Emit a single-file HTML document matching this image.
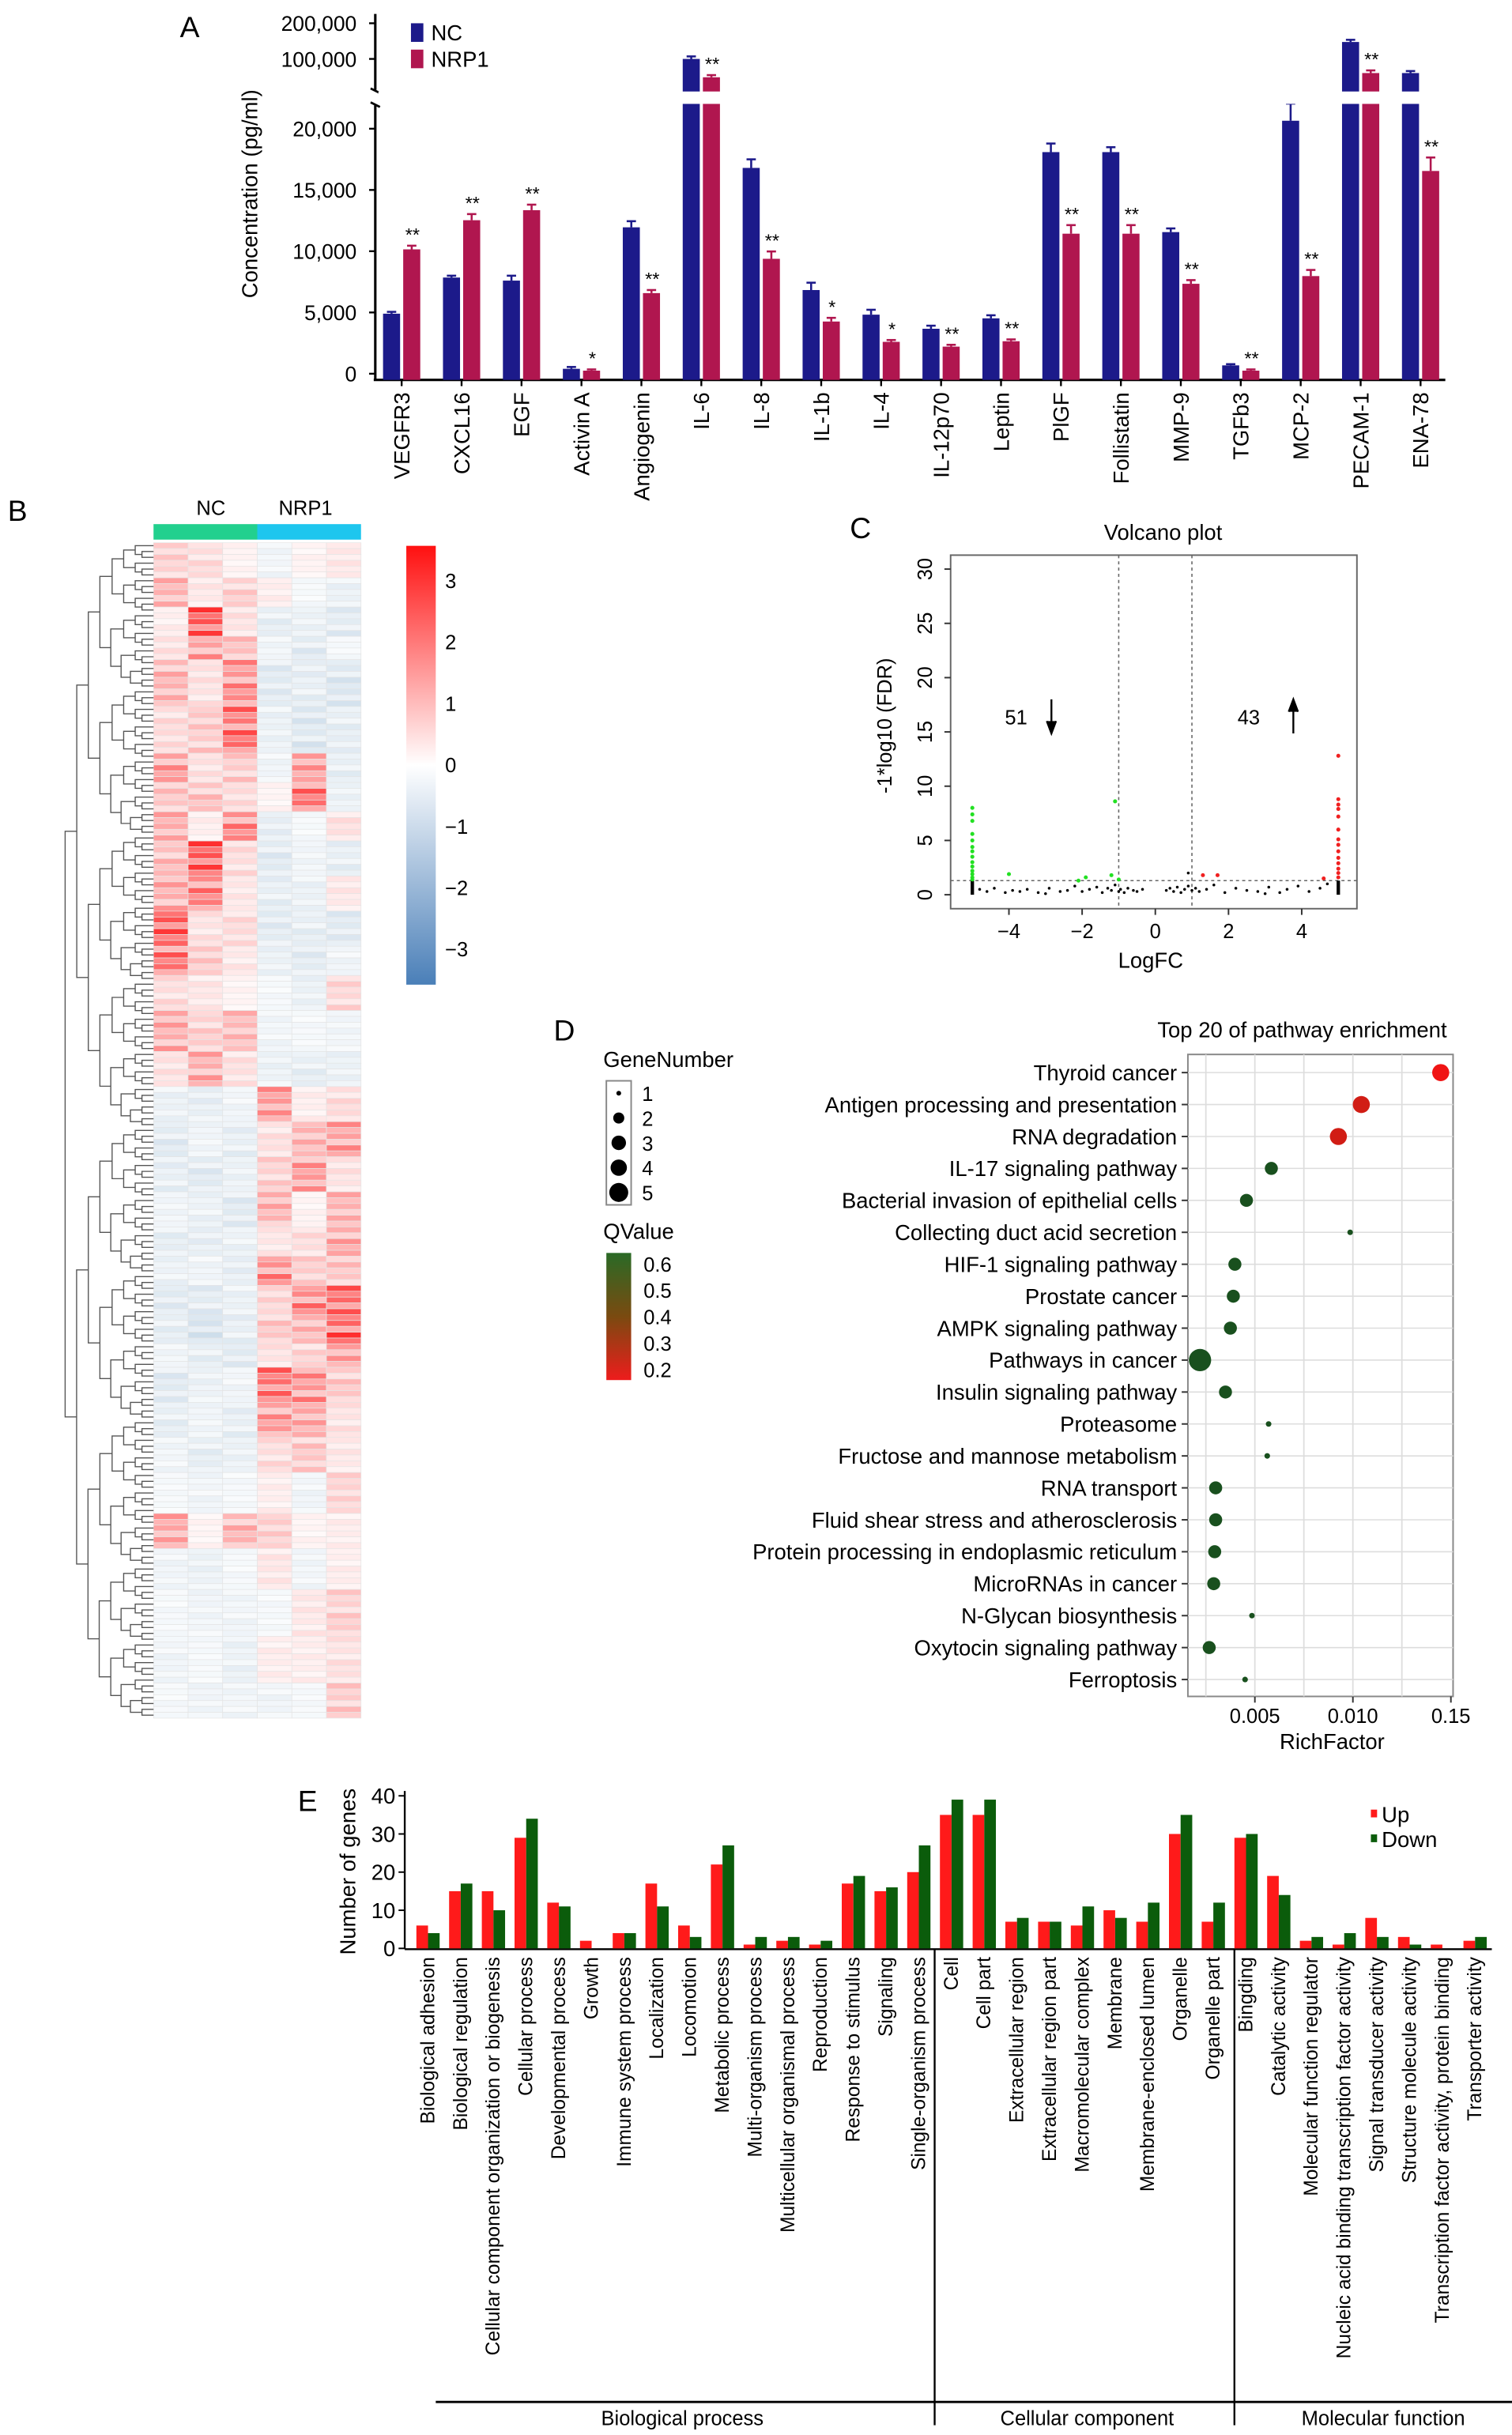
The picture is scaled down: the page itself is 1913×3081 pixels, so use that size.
<!DOCTYPE html>
<html><head><meta charset="utf-8"><style>
html,body{margin:0;padding:0;background:#fff;}
svg{display:block;font-family:"Liberation Sans",Arial,sans-serif;}
</style></head><body>
<svg id="fig" xmlns="http://www.w3.org/2000/svg" width="1913" height="3081" viewBox="0 0 975 1570.3" preserveAspectRatio="none">
<rect x="0" y="0" width="975" height="1571" fill="#fff"/>
<g id="pa"></g>
<g id="pb"></g>
<g id="pc"></g>
<g id="pd"></g>
<g id="pe"></g>
</svg>
<script>
// ---------- Panel A data ----------
const aCats=["VEGFR3","CXCL16","EGF","Activin A","Angiogenin","IL-6","IL-8","IL-1b","IL-4","IL-12p70","Leptin","PlGF","Follistatin","MMP-9","TGFb3","MCP-2","PECAM-1","ENA-78"];
const aNC=[4900,7850,7600,400,11950,100000,16800,6830,4820,3670,4520,18090,18090,11560,680,20650,139000,76000];
const aNRP=[10150,12530,13350,250,6580,70000,9380,4260,2600,2210,2650,11430,11430,7340,250,7970,76000,16550];
const aNCerr=[150,150,400,150,500,5000,700,600,400,250,250,700,400,300,100,1400,6000,3000];
const aNRPerr=[300,500,450,100,250,3000,600,300,150,150,150,700,700,300,100,500,4000,1100];
const aStars=["**","**","**","*","**","**","**","*","*","**","**","**","**","**","**","**","**","**"];
const aTicks=[0,5000,10000,15000,20000,100000,200000];
const aTickLabels=["0","5,000","10,000","15,000","20,000","100,000","200,000"];
// ---------- Panel B data: [rows, NC1,NC2,NC3,NRP1,NRP2,NRP3] ----------
const hmBlocks=[[6,0.8,0.6,0.2,-0.3,0.2,0.4],[5,1.2,0.4,0.8,0.3,-0.2,-0.4],[5,0.3,2.6,0.5,-0.5,-0.4,-0.6],[4,0.5,1.6,1.0,-0.3,-0.6,-0.2],[8,1.2,0.5,1.8,-0.6,-0.5,-0.7],[8,0.6,0.9,2.3,-0.4,-0.7,-0.5],[5,1.6,0.5,0.9,-0.3,1.6,-0.5],[5,1.0,1.0,0.6,0.2,2.2,-0.4],[5,1.3,0.3,1.9,-0.5,-0.2,0.5],[6,1.1,2.6,0.6,-0.6,-0.3,-0.5],[6,1.4,2.0,0.4,-0.5,-0.4,0.4],[6,2.6,0.5,0.6,-0.6,-0.5,-0.6],[5,2.2,0.9,0.4,-0.4,-0.6,-0.3],[6,0.6,0.4,0.2,-0.2,-0.4,0.7],[7,1.4,0.8,1.1,-0.3,-0.2,-0.3],[6,0.5,1.4,0.5,-0.4,-0.5,-0.4],[6,-0.4,-0.5,-0.3,1.6,0.3,0.6],[6,-0.6,-0.3,-0.5,0.5,1.2,1.6],[6,-0.5,-0.6,-0.4,0.8,1.6,0.5],[6,-0.3,-0.4,-0.6,1.3,0.2,1.2],[5,-0.5,-0.5,-0.4,0.4,0.6,1.4],[5,-0.4,-0.3,-0.5,1.9,0.8,1.0],[5,-0.6,-0.6,-0.4,0.7,2.0,2.3],[5,-0.5,-0.8,-0.5,0.9,1.2,2.6],[4,-0.3,-0.5,-0.6,0.5,0.7,1.5],[6,-0.6,-0.4,-0.3,2.2,1.8,0.9],[6,-0.5,-0.3,-0.5,1.6,1.4,0.5],[6,-0.3,-0.5,-0.4,0.6,0.9,0.4],[7,-0.2,-0.3,-0.2,0.3,-0.3,0.7],[6,1.4,0.2,1.2,0.8,0.2,0.3],[7,-0.3,-0.4,-0.2,0.4,-0.3,0.3],[8,-0.2,-0.3,-0.3,-0.2,0.4,0.8],[8,-0.3,-0.2,-0.4,0.3,0.3,0.5],[6,-0.2,-0.3,-0.3,-0.3,-0.2,0.9]];
const hmPattern=[1,0.55,1.15,0.7,0.9,0.45,1.2,0.8];
const cbTicks=[3,2,1,0,-1,-2,-3];
// ---------- Panel C data ----------
const volGreenX=[-5,-5,-5,-5,-5,-5,-5,-5,-5,-5,-5,-5,-5,-5,-4,-2.1,-1.9,-1.2,-1.1,-1.0];
const volGreenY=[8,7.4,6.8,5.6,5,4.4,4,3.5,3,2.6,2.2,1.9,1.6,1.4,1.9,1.3,1.6,1.8,8.6,1.4];
const volRedX=[5,5,5,5,5,5,5,5,5,5,5,5,5,5,1.3,1.7,4.6];
const volRedY=[12.8,8.8,8.3,7.9,7.2,6,5.1,4.6,4,3.4,2.9,2.4,2,1.6,1.8,1.8,1.5];
const volBlackX=[-4.8,-4.6,-4.4,-4.1,-3.9,-3.7,-3.5,-3.2,-2.9,-2.6,-2.4,-2.2,-2.0,-1.8,-1.6,-1.45,-1.3,-1.2,-1.1,-1.0,-0.95,-0.85,-0.75,-0.6,-0.5,-0.35,0.3,0.4,0.5,0.6,0.7,0.8,0.9,1.0,1.1,1.2,1.4,1.6,1.9,2.2,2.5,2.8,3.1,3.4,3.6,3.9,4.2,4.5,4.7,0.9,-3.0,3.0];
const volBlackY=[0.5,0.3,0.6,0.2,0.4,0.3,0.5,0.2,0.6,0.3,0.4,0.8,0.3,0.5,0.7,0.2,0.6,0.4,0.9,0.3,0.5,0.2,0.6,0.4,0.3,0.5,0.4,0.6,0.3,0.7,0.2,0.5,0.8,0.4,0.6,0.3,0.5,0.9,0.2,0.6,0.4,0.3,0.7,0.2,0.5,0.8,0.3,0.6,1.0,2.0,0.1,0.1];
const volYTicks=[0,5,10,15,20,25,30];
const volXTicks=[-4,-2,0,2,4];
// ---------- Panel D data ----------
const pwNames=["Thyroid cancer","Antigen processing and presentation","RNA degradation","IL-17 signaling pathway","Bacterial invasion of epithelial cells","Collecting duct acid secretion","HIF-1 signaling pathway","Prostate cancer","AMPK signaling pathway","Pathways in cancer","Insulin signaling pathway","Proteasome","Fructose and mannose metabolism","RNA transport","Fluid shear stress and atherosclerosis","Protein processing in endoplasmic reticulum","MicroRNAs in cancer","N-Glycan biosynthesis","Oxytocin signaling pathway","Ferroptosis"];
const pwRich=[0.01448,0.01043,0.00926,0.00584,0.00457,0.00986,0.00398,0.0039,0.00375,0.0022,0.0035,0.0057,0.00563,0.0030,0.0030,0.00295,0.0029,0.00485,0.00267,0.0045];
const pwGenes=[3,3,3,2,2,1,2,2,2,5,2,1,1,2,2,2,2,1,2,1];
const pwQ=[0.2,0.26,0.26,0.62,0.62,0.62,0.62,0.62,0.62,0.62,0.62,0.62,0.62,0.62,0.62,0.62,0.62,0.62,0.62,0.62];
const pwXTicks=[0.005,0.010,0.015];
const pwXTickLabels=["0.005","0.010","0.15"];
// ---------- Panel E data ----------
const goCats=["Biological adhesion","Biological regulation","Cellular component organization or biogenesis","Cellular process","Developmental process","Growth","Immune system process","Localization","Locomotion","Metabolic process","Multi-organism process","Multicellular organismal process","Reproduction","Response to stimulus","Signaling","Single-organism process","Cell","Cell part","Extracellular region","Extracellular region part","Macromolecular complex","Membrane","Membrane-enclosed lumen","Organelle","Organelle part","Bingding","Catalytic activity","Molecular function regulator","Nucleic acid binding transcription factor activity","Signal transducer activity","Structure molecule activity","Transcription factor activity, protein binding","Transporter activity"];
const goUp=[6,15,15,29,12,2,4,17,6,22,1,2,1,17,15,20,35,35,7,7,6,10,7,30,7,29,19,2,1,8,3,1,2];
const goDown=[4,17,10,34,11,0,4,11,3,27,3,3,2,19,16,27,39,39,8,7,11,8,12,35,12,30,14,3,4,3,1,0,3];
const goTicks=[0,10,20,30,40];
const goGroups=["Biological process","Cellular component","Molecular function"];

const NS="http://www.w3.org/2000/svg";
function mk(parent,tag,attrs,text){const e=document.createElementNS(NS,tag);for(const k in attrs)e.setAttribute(k,attrs[k]);if(text!==undefined)e.textContent=text;parent.appendChild(e);return e;}

// ================= PANEL A =================
(function(){
const g=document.getElementById('pa');
const base=245, axX=242;
function yA(v){ if(v<=25000) return 241 - v*0.0079; return 38 - Math.log2(v/100000)*23; }
const xC=i=>259+i*38.65;
let t=mk(g,'text',{x:116,y:24,'font-size':19},'A');

let ax=mk(g,'line',{x1:axX,y1:9,x2:axX,y2:58,stroke:'#000','stroke-width':1.6});

ax=mk(g,'line',{x1:axX,y1:68,x2:axX,y2:base,stroke:'#000','stroke-width':1.6});

mk(g,'line',{x1:axX-3,y1:57,x2:axX+3,y2:60,stroke:'#000','stroke-width':1.4});
mk(g,'line',{x1:axX-3,y1:66,x2:axX+3,y2:69,stroke:'#000','stroke-width':1.4});
ax=mk(g,'line',{x1:axX-1,y1:base,x2:932,y2:base,stroke:'#000','stroke-width':1.6});

aTicks.forEach((v,i)=>{const y=yA(v);
 mk(g,'line',{x1:axX-4,y1:y,x2:axX,y2:y,stroke:'#000','stroke-width':1.2});
 const tl=mk(g,'text',{x:axX-12,y:y+5,'font-size':13.5,'text-anchor':'end'},aTickLabels[i]);
 });
const yt=mk(g,'text',{x:0,y:0,'font-size':14,'text-anchor':'middle',transform:'translate(166,125) rotate(-90)'},'Concentration (pg/ml)');

aCats.forEach((c,i)=>{
 const cx=xC(i);
 [[aNC[i],aNCerr[i],'#1c1a8a',cx-12],[aNRP[i],aNRPerr[i],'#b0164f',cx+1]].forEach((s,k)=>{
  const top=yA(s[0]);
  const b=mk(g,'rect',{x:s[3],y:top,width:11,height:base-top,fill:s[2]});
  
  const et=yA(s[0]+s[1]);
  mk(g,'line',{x1:s[3]+5.5,y1:et,x2:s[3]+5.5,y2:top,stroke:s[2],'stroke-width':1.3});
  mk(g,'line',{x1:s[3]+2.5,y1:et,x2:s[3]+8.5,y2:et,stroke:s[2],'stroke-width':1.3});
 });
 const st=mk(g,'text',{x:cx+7,y:yA(aNRP[i]+aNRPerr[i])-3,'font-size':12,'text-anchor':'middle'},aStars[i]);
 
 mk(g,'line',{x1:cx,y1:base,x2:cx,y2:base+4,stroke:'#000','stroke-width':1.2});
 const cl=mk(g,'text',{x:0,y:0,'font-size':14,'text-anchor':'end',transform:`translate(${cx+5},${base+8}) rotate(-90)`},c);
 
});
mk(g,'rect',{x:axX+2,y:59,width:700,height:8,fill:'#fff'});
let lg=mk(g,'rect',{x:265,y:15,width:8,height:12,fill:'#1c1a8a'});
lg=mk(g,'text',{x:278,y:26,'font-size':14},'NC');
lg=mk(g,'rect',{x:265,y:32,width:8,height:12,fill:'#b0164f'});
lg=mk(g,'text',{x:278,y:43,'font-size':14},'NRP1');
})();

// ================= PANEL B =================
(function(){
const g=document.getElementById('pb');
let t=mk(g,'text',{x:5,y:336,'font-size':19},'B');
const x0=99,cw=22.3,y0=350;
let total=0;hmBlocks.forEach(b=>total+=b[0]);
const rh=758/total;
function col(v){v=Math.max(-3.5,Math.min(3.5,v));
 if(v>=0){const f=v/3.5;return `rgb(255,${Math.round(255-235*f)},${Math.round(255-235*f)})`;}
 const f=-v/3.5;return `rgb(${Math.round(255-185*f)},${Math.round(255-125*f)},${Math.round(255-75*f)})`;}
let r=0;
hmBlocks.forEach(b=>{for(let k=0;k<b[0];k++){
 for(let c=0;c<6;c++){
  const m=hmPattern[(r+c*3)%hmPattern.length];
  const cell=mk(g,'rect',{x:x0+c*cw,y:y0+r*rh,width:cw,height:rh,fill:col(b[c+1]*m),stroke:'#e4e4e4','stroke-width':0.35});
  
 } r++;}});
let h=mk(g,'rect',{x:x0,y:338,width:cw*3,height:10,fill:'#22d08e'});
h=mk(g,'rect',{x:x0+cw*3,y:338,width:cw*3,height:10,fill:'#1ec6ee'});
h=mk(g,'text',{x:136,y:332,'font-size':13,'text-anchor':'middle'},'NC');
h=mk(g,'text',{x:197,y:332,'font-size':13,'text-anchor':'middle'},'NRP1');
const dg=mk(g,'g',{stroke:'#555','stroke-width':0.7,fill:'none'});

function tree(a,b){
 if(b-a<=1){return [y0+(a+0.5)*rh,x0];}
 const m=Math.floor((a+b)/2);
 const L=tree(a,m),R=tree(m,b);
 const x=x0-57*Math.log2(b-a)/Math.log2(total);
 mk(dg,'path',{d:`M${L[1]},${L[0]}H${x}V${R[0]}H${R[1]}`});
 return [(L[0]+R[0])/2,x];}
tree(0,total);
const defs=mk(g,'defs',{});
const lgd=mk(defs,'linearGradient',{id:'hmg',x1:0,y1:0,x2:0,y2:1});
[['0','#ff1010'],['0.5','#ffffff'],['1','#4a7fb8']].forEach(s=>mk(lgd,'stop',{offset:s[0],'stop-color':s[1]}));
const cb=mk(g,'rect',{x:262,y:352,width:19,height:283,fill:'url(#hmg)'});

cbTicks.forEach(v=>{const y=493-v*39.6;
 const tl=mk(g,'text',{x:287,y:y+5,'font-size':13},v<0?'\u2212'+(-v):String(v));
 });
})();

// ================= PANEL C =================
(function(){
const g=document.getElementById('pc');
const xV=v=>745+v*23.6, yV=v=>577-v*7.0;
let t=mk(g,'text',{x:548,y:347,'font-size':19},'C');
t=mk(g,'text',{x:750,y:348,'font-size':14,'text-anchor':'middle'},'Volcano plot');
const fr=mk(g,'rect',{x:613,y:358,width:262,height:228,fill:'none',stroke:'#666','stroke-width':1});

volYTicks.forEach(v=>{const y=yV(v);mk(g,'line',{x1:609,y1:y,x2:613,y2:y,stroke:'#333'});
 const tl=mk(g,'text',{x:0,y:0,'font-size':13,'text-anchor':'middle',transform:`translate(601,${y}) rotate(-90)`},String(v));
 });
volXTicks.forEach(v=>{const x=xV(v);mk(g,'line',{x1:x,y1:586,x2:x,y2:590,stroke:'#333'});
 const tl=mk(g,'text',{x:x,y:605,'font-size':13,'text-anchor':'middle'},v<0?'\u2212'+(-v):String(v));
 });
t=mk(g,'text',{x:742,y:624,'font-size':14,'text-anchor':'middle'},'LogFC');
t=mk(g,'text',{x:0,y:0,'font-size':13,'text-anchor':'middle',transform:'translate(575,468) rotate(-90)'},'-1*log10 (FDR)');
[-1,1].forEach(v=>{const l=mk(g,'line',{x1:xV(v),y1:358,x2:xV(v),y2:586,stroke:'#666','stroke-dasharray':'2,2','stroke-width':0.8});});
let hl=mk(g,'line',{x1:613,y1:yV(1.3),x2:875,y2:yV(1.3),stroke:'#666','stroke-dasharray':'2,2','stroke-width':0.8});
mk(g,'line',{x1:xV(-5),y1:yV(0),x2:xV(-5),y2:yV(1.3),stroke:'#000','stroke-width':2.2});
mk(g,'line',{x1:xV(5),y1:yV(0),x2:xV(5),y2:yV(1.3),stroke:'#000','stroke-width':2.2});
volBlackX.forEach((v,i)=>{const p=mk(g,'circle',{cx:xV(v),cy:yV(volBlackY[i]),r:0.9,fill:'#000'});});
volGreenX.forEach((v,i)=>{const p=mk(g,'circle',{cx:xV(v),cy:yV(volGreenY[i]),r:1.3,fill:'#22e022'});});
volRedX.forEach((v,i)=>{const p=mk(g,'circle',{cx:xV(v),cy:yV(volRedY[i]),r:1.3,fill:'#f02020'});});
t=mk(g,'text',{x:648,y:467,'font-size':13},'51');
mk(g,'path',{d:'M678,451V471M675,465L678,473L681,465',stroke:'#000','stroke-width':1.2,fill:'#000'});
t=mk(g,'text',{x:798,y:467,'font-size':13},'43');
mk(g,'path',{d:'M834,473V453M831,459L834,451L837,459',stroke:'#000','stroke-width':1.2,fill:'#000'});
})();

// ================= PANEL D =================
(function(){
const g=document.getElementById('pd');
const xR=v=>746+v*12640, yR=i=>691.7+i*20.6;
let t=mk(g,'text',{x:357,y:671,'font-size':19},'D');
t=mk(g,'text',{x:933,y:669,'font-size':14,'text-anchor':'end'},'Top 20 of pathway enrichment');
mk(g,'rect',{x:766,y:680,width:171,height:414,fill:'#fff',stroke:'#888','stroke-width':1});
for(let k=1;k<=5;k++){const x=xR(k*0.0025);mk(g,'line',{x1:x,y1:680,x2:x,y2:1094,stroke:'#ddd','stroke-width':0.9});}
pwNames.forEach((n,i)=>{mk(g,'line',{x1:766,y1:yR(i),x2:937,y2:yR(i),stroke:'#ddd','stroke-width':0.8});
 mk(g,'line',{x1:762,y1:yR(i),x2:766,y2:yR(i),stroke:'#333'});
 const l=mk(g,'text',{x:759,y:yR(i)+5,'font-size':14,'text-anchor':'end'},n);
 });
const rad=n=>[0,1.8,4.2,5.5,6.2,7.2][n];
function qcol(q){const f=Math.max(0,Math.min(1,(q-0.2)/0.42));
 return `rgb(${Math.round(240-215*f)},${Math.round(20+60*f)},${Math.round(20+10*f)})`;}
pwRich.forEach((v,i)=>{const c=mk(g,'circle',{cx:xR(v),cy:yR(i),r:rad(pwGenes[i]),fill:qcol(pwQ[i])});
 });
pwXTicks.forEach((v,i)=>{const x=xR(v);mk(g,'line',{x1:x,y1:1094,x2:x,y2:1098,stroke:'#333'});
 const l=mk(g,'text',{x:x,y:1111,'font-size':13,'text-anchor':'middle'},pwXTickLabels[i]);
 });
t=mk(g,'text',{x:859,y:1128,'font-size':14,'text-anchor':'middle'},'RichFactor');
t=mk(g,'text',{x:389,y:688,'font-size':14},'GeneNumber');
mk(g,'rect',{x:391,y:697,width:16,height:80,fill:'#fff',stroke:'#888'});
[1,2,3,4,5].forEach((n,i)=>{const y=705+i*16;mk(g,'circle',{cx:399,cy:y,r:rad(n)*0.85,fill:'#000'});
 const l=mk(g,'text',{x:414,y:y+5,'font-size':13},String(n));});
t=mk(g,'text',{x:389,y:799,'font-size':14},'QValue');
const defs=mk(g,'defs',{});const lg=mk(defs,'linearGradient',{id:'qg',x1:0,y1:0,x2:0,y2:1});
[['0','#2a6a26'],['0.5','#7a4a10'],['1','#ee1c1c']].forEach(s=>mk(lg,'stop',{offset:s[0],'stop-color':s[1]}));
const cb=mk(g,'rect',{x:391,y:808,width:16,height:82,fill:'url(#qg)'});
["0.6","0.5","0.4","0.3","0.2"].forEach((s,i)=>{const l=mk(g,'text',{x:415,y:820+i*17,'font-size':13},s);});
})();

// ================= PANEL E =================
(function(){
const g=document.getElementById('pe');
const yG=v=>1256.5-v*2.46, xG=i=>276+i*21.1, axX=261;
let t=mk(g,'text',{x:192,y:1168,'font-size':19},'E');
let ax=mk(g,'line',{x1:axX,y1:1155,x2:axX,y2:1257,stroke:'#000','stroke-width':1.2});
ax=mk(g,'line',{x1:axX,y1:1257,x2:962,y2:1257,stroke:'#000','stroke-width':1.2});
goTicks.forEach(v=>{const y=yG(v);mk(g,'line',{x1:axX-4,y1:y,x2:axX,y2:y,stroke:'#000'});
 const l=mk(g,'text',{x:axX-6,y:y+5,'font-size':14,'text-anchor':'end'},String(v));});
t=mk(g,'text',{x:0,y:0,'font-size':14,'text-anchor':'middle',transform:'translate(229,1207) rotate(-90)'},'Number of genes');
goCats.forEach((c,i)=>{const cx=xG(i);
 const u=mk(g,'rect',{x:cx-7.5,y:yG(goUp[i]),width:7.5,height:goUp[i]*2.46,fill:'#ff1a1a'});
 const d=mk(g,'rect',{x:cx,y:yG(goDown[i]),width:7.5,height:goDown[i]*2.46,fill:'#0b5c0b'});
 const l=mk(g,'text',{x:0,y:0,'font-size':12.5,'text-anchor':'end',transform:`translate(${cx+4},1262) rotate(-90)`},c);
 });
[602.7,796].forEach(x=>{const l=mk(g,'line',{x1:x,y1:1257,x2:x,y2:1564,stroke:'#000','stroke-width':1.2});});
ax=mk(g,'line',{x1:281,y1:1549,x2:975,y2:1549,stroke:'#000','stroke-width':1.5});
[440,701,892].forEach((x,i)=>{const l=mk(g,'text',{x:x,y:1564,'font-size':13,'text-anchor':'middle'},goGroups[i]);});
let lg=mk(g,'rect',{x:884,y:1167,width:4,height:5,fill:'#ff1a1a'});
lg=mk(g,'text',{x:891,y:1175,'font-size':14},'Up');
lg=mk(g,'rect',{x:884,y:1183,width:4,height:5,fill:'#0b5c0b'});
lg=mk(g,'text',{x:891,y:1191,'font-size':14},'Down');
})();
</script>
</body></html>
